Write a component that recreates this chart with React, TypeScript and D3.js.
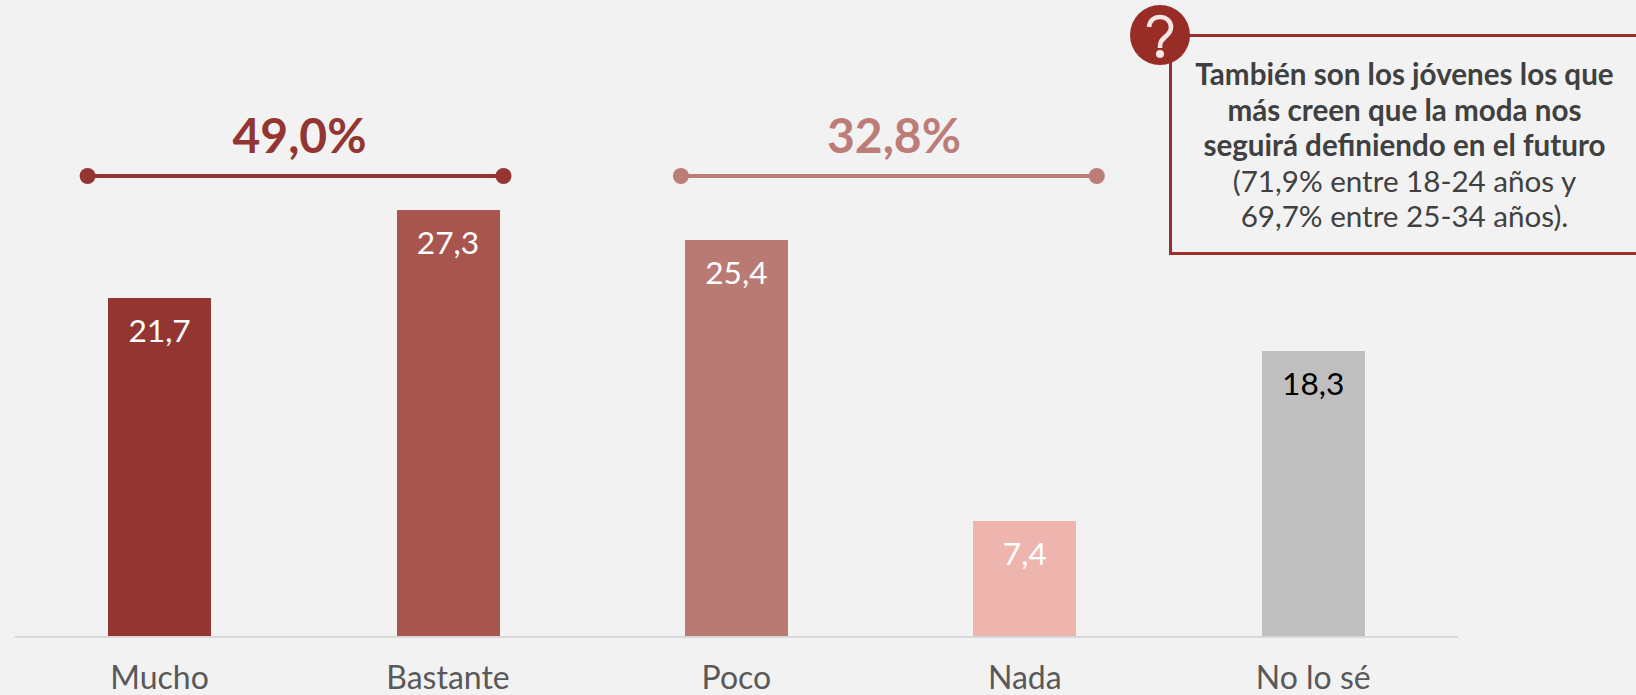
import React from "react";
import * as d3 from "d3";

const categories = ["Mucho", "Bastante", "Poco", "Nada", "No lo sé"];
const values = [21.7, 27.3, 25.4, 7.4, 18.3];
const barColors = ["#933632", "#a85550", "#ba7a74", "#edb5ae", "#bfbfbf"];
const labelColors = ["#ffffff", "#ffffff", "#ffffff", "#ffffff", "#000000"];
const groupLabels = ["49,0%", "32,8%"];
const groupColors = ["#933632", "#bc7d78"];
const noteBold = ["También son los jóvenes los que", "más creen que la moda nos", "seguirá definiendo en el futuro"];
const noteRegular = ["(71,9% entre 18-24 años y", "69,7% entre 25-34 años)."];

const W = 1636, H = 695;
const font = "Lato, 'Open Sans', sans-serif";

export default function App() {
  const x = d3.scaleBand<string>().domain(categories).range([15.4, 1457.4]).paddingInner(0.643).paddingOuter(0.3215);
  const y = d3.scaleLinear().domain([0, 27.3]).range([636.6, 210.2]);
  const c = (k: string) => x(k)! + x.bandwidth() / 2;
  const noteLines = [...noteBold.map((t) => ({ t, b: true })), ...noteRegular.map((t) => ({ t, b: false }))];
  // bracket extents relative to the bars they group
  const brackets = [
    { x1: c("Mucho") - 72, x2: c("Bastante") + 55.5, tx: 299.5 },
    { x1: c("Poco") - 55.5, x2: c("Nada") + 72, tx: 894 },
  ];
  return (
    <svg width={W} height={H} style={{ position: "fixed", left: 0, top: 0, background: "#f2f2f2", fontFamily: font }}>
      <line x1={15} x2={1458} y1={637} y2={637} stroke="#d9d9d9" strokeWidth={2} />
      {categories.map((k, i) => {
        const top = Math.round(y(values[i]));
        return (
          <g key={k}>
            <rect x={Math.round(x(k)!)} y={top} width={103} height={636 - top} fill={barColors[i]} />
            <text x={c(k)} y={top + 43.5} textAnchor="middle" fontSize={31.7} fill={labelColors[i]}>
              {values[i].toFixed(1).replace(".", ",")}
            </text>
            <text x={c(k)} y={689} textAnchor="middle" fontSize={32} fill="#595959">{k}</text>
          </g>
        );
      })}
      {brackets.map((b, i) => (
        <g key={groupLabels[i]}>
          <line x1={b.x1} x2={b.x2} y1={176} y2={176} stroke={groupColors[i]} strokeWidth={4} />
          <circle cx={b.x1} cy={176} r={8} fill={groupColors[i]} />
          <circle cx={b.x2} cy={176} r={8} fill={groupColors[i]} />
          <text x={b.tx} y={153} textAnchor="middle" fontSize={48} fontWeight={700} fill={groupColors[i]}>{groupLabels[i]}</text>
        </g>
      ))}
      <rect x={1170.5} y={35.5} width={480} height={218} fill="#f2f2f2" stroke="#9b2f2a" strokeWidth={3} />
      <circle cx={1160} cy={35} r={30} fill="#982c26" />
      <path
        d="M1149 27 C1150 19 1156 17 1160 17 C1167 17 1171 22 1171 27 C1171 33 1167 35 1164 38 C1161 41 1160 42 1160 48"
        fill="none" stroke="#f4e6e4" strokeWidth={4.6}
      />
      <circle cx={1160} cy={54} r={4} fill="#f4e6e4" />
      {noteLines.map((l, i) => (
        <text key={l.t} x={1404.5} y={85 + i * 35.5} textAnchor="middle" fontSize={29.6} fontWeight={l.b ? 700 : 400} fill="#404040">{l.t}</text>
      ))}
    </svg>
  );
}
